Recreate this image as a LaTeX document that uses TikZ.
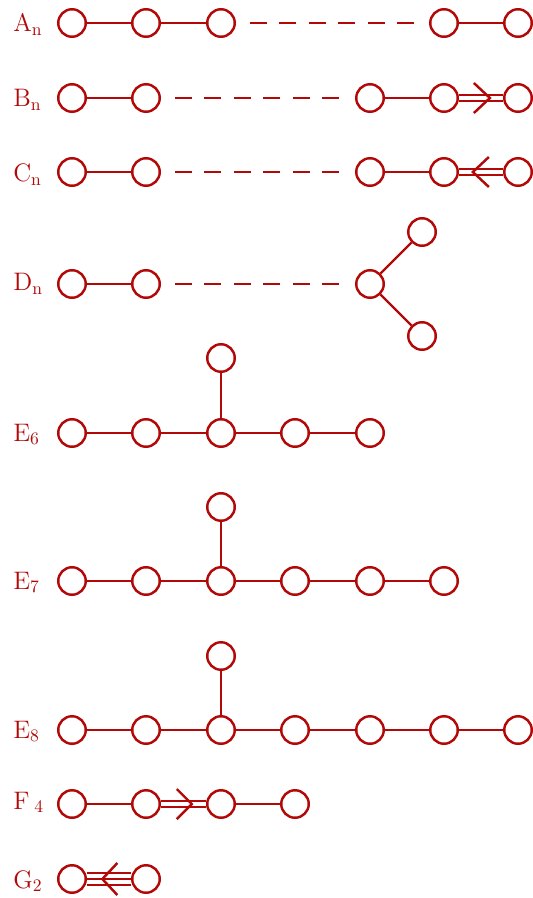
\documentclass[tikz,border=0pt]{standalone}
\usetikzlibrary{calc}
\definecolor{dynkinred}{RGB}{178,8,8}

\begin{document}
\begin{tikzpicture}[x=0.02cm, y=-0.02cm,
  dot/.style={draw=dynkinred, circle, line width=1.4pt, minimum size=0.55cm,
              inner sep=0pt},
  bond/.style={draw=dynkinred, line width=1.4pt},
  gap/.style={bond, dash pattern=on 0.34cm off 0.25cm,
              shorten <=0.28cm, shorten >=0.28cm},
  lbl/.style={text=dynkinred, font=\fontsize{14.5}{17}\selectfont,
              anchor=base west, inner sep=0pt}
]
  \useasboundingbox (0,0) rectangle (533,898);

  % A_n
  \node[lbl] (la) at (13, 32) {$\mathrm{A}_\mathrm{n}$};
  \node[dot] (a1) at (72, 23) {};  \node[dot] (a2) at (146, 23) {};
  \node[dot] (a3) at (221, 23) {}; \node[dot] (a4) at (444, 23) {};
  \node[dot] (a5) at (518, 23) {};
  \draw[bond] (a1) -- (a2);  \draw[bond] (a2) -- (a3);
  \draw[gap] (a3) -- (a4);   \draw[bond] (a4) -- (a5);

  % B_n
  \node[lbl] (lb) at (13, 107) {$\mathrm{B}_\mathrm{n}$};
  \node[dot] (b1) at (72, 98) {};  \node[dot] (b2) at (146, 98) {};
  \node[dot] (b3) at (370, 98) {}; \node[dot] (b4) at (444, 98) {};
  \node[dot] (b5) at (518, 98) {};
  \draw[bond] (b1) -- (b2);  \draw[gap] (b2) -- (b3);  \draw[bond] (b3) -- (b4);
  \draw[bond] ($(b4.east)+(0,-3)$) -- ($(b5.west)+(0,-3)$);
  \draw[bond] ($(b4.east)+(0,3)$) -- ($(b5.west)+(0,3)$);
  \coordinate (bt) at ($(b4)!0.62!(b5)$);
  \draw[bond] ($(bt)+(-16,-15)$) -- (bt) -- ($(bt)+(-16,15)$);

  % C_n
  \node[lbl] (lc) at (13, 182) {$\mathrm{C}_\mathrm{n}$};
  \node[dot] (c1) at (72, 172) {};  \node[dot] (c2) at (146, 172) {};
  \node[dot] (c3) at (370, 172) {}; \node[dot] (c4) at (444, 172) {};
  \node[dot] (c5) at (518, 172) {};
  \draw[bond] (c1) -- (c2);  \draw[gap] (c2) -- (c3);  \draw[bond] (c3) -- (c4);
  \draw[bond] ($(c4.east)+(0,-3)$) -- ($(c5.west)+(0,-3)$);
  \draw[bond] ($(c4.east)+(0,3)$) -- ($(c5.west)+(0,3)$);
  \coordinate (ct) at ($(c4)!0.39!(c5)$);
  \draw[bond] ($(ct)+(16,-15)$) -- (ct) -- ($(ct)+(16,15)$);

  % D_n
  \node[lbl] (ld) at (13, 291) {$\mathrm{D}_\mathrm{n}$};
  \node[dot] (d1) at (72, 284) {};  \node[dot] (d2) at (146, 284) {};
  \node[dot] (d3) at (370, 284) {}; \node[dot] (d4) at (422, 232) {};
  \node[dot] (d5) at (422, 336) {};
  \draw[bond] (d1) -- (d2);  \draw[gap] (d2) -- (d3);
  \draw[bond] (d3) -- (d4);  \draw[bond] (d3) -- (d5);

  % E_6
  \node[lbl] (le6) at (13, 441) {$\mathrm{E}_6$};
  \node[dot] (f1) at (72, 433) {};  \node[dot] (f2) at (146, 433) {};
  \node[dot] (f3) at (221, 433) {}; \node[dot] (f4) at (295, 433) {};
  \node[dot] (f5) at (370, 433) {}; \node[dot] (f6) at (221, 358) {};
  \draw[bond] (f1) -- (f2);  \draw[bond] (f2) -- (f3);  \draw[bond] (f3) -- (f4);
  \draw[bond] (f4) -- (f5);  \draw[bond] (f3) -- (f6);

  % E_7
  \node[lbl] (le7) at (13, 589) {$\mathrm{E}_7$};
  \node[dot] (g1) at (72, 581) {};  \node[dot] (g2) at (146, 581) {};
  \node[dot] (g3) at (221, 581) {}; \node[dot] (g4) at (295, 581) {};
  \node[dot] (g5) at (370, 581) {}; \node[dot] (g6) at (444, 581) {};
  \node[dot] (g7) at (221, 507) {};
  \draw[bond] (g1) -- (g2);  \draw[bond] (g2) -- (g3);  \draw[bond] (g3) -- (g4);
  \draw[bond] (g4) -- (g5);  \draw[bond] (g5) -- (g6);  \draw[bond] (g3) -- (g7);

  % E_8
  \node[lbl] (le8) at (13, 738) {$\mathrm{E}_8$};
  \node[dot] (h1) at (72, 730) {};  \node[dot] (h2) at (146, 730) {};
  \node[dot] (h3) at (221, 730) {}; \node[dot] (h4) at (295, 730) {};
  \node[dot] (h5) at (370, 730) {}; \node[dot] (h6) at (444, 730) {};
  \node[dot] (h7) at (518, 730) {}; \node[dot] (h8) at (221, 656) {};
  \draw[bond] (h1) -- (h2);  \draw[bond] (h2) -- (h3);  \draw[bond] (h3) -- (h4);
  \draw[bond] (h4) -- (h5);  \draw[bond] (h5) -- (h6);  \draw[bond] (h6) -- (h7);
  \draw[bond] (h3) -- (h8);

  % F_4
  \node[lbl] (lf) at (13, 809) {$\mathrm{F}_{\;4}$};
  \node[dot] (k1) at (72, 804) {};  \node[dot] (k2) at (146, 804) {};
  \node[dot] (k3) at (221, 804) {}; \node[dot] (k4) at (295, 804) {};
  \draw[bond] (k1) -- (k2);  \draw[bond] (k3) -- (k4);
  \draw[bond] ($(k2.east)+(0,-3)$) -- ($(k3.west)+(0,-3)$);
  \draw[bond] ($(k2.east)+(0,3)$) -- ($(k3.west)+(0,3)$);
  \coordinate (kt) at ($(k2)!0.61!(k3)$);
  \draw[bond] ($(kt)+(-15,-15)$) -- (kt) -- ($(kt)+(-15,15)$);

  % G_2
  \node[lbl] (lg) at (13, 888) {$\mathrm{G}_2$};
  \node[dot] (m1) at (72, 879) {};  \node[dot] (m2) at (146, 879) {};
  \draw[bond] (m1) -- (m2);
  \draw[bond] ($(m1.east)+(0,-6)$) -- ($(m2.west)+(0,-6)$);
  \draw[bond] ($(m1.east)+(0,6)$) -- ($(m2.west)+(0,6)$);
  \coordinate (mt) at ($(m1)!0.41!(m2)$);
  \draw[bond] ($(mt)+(15,-16)$) -- (mt) -- ($(mt)+(15,16)$);

\end{tikzpicture}
\end{document}
